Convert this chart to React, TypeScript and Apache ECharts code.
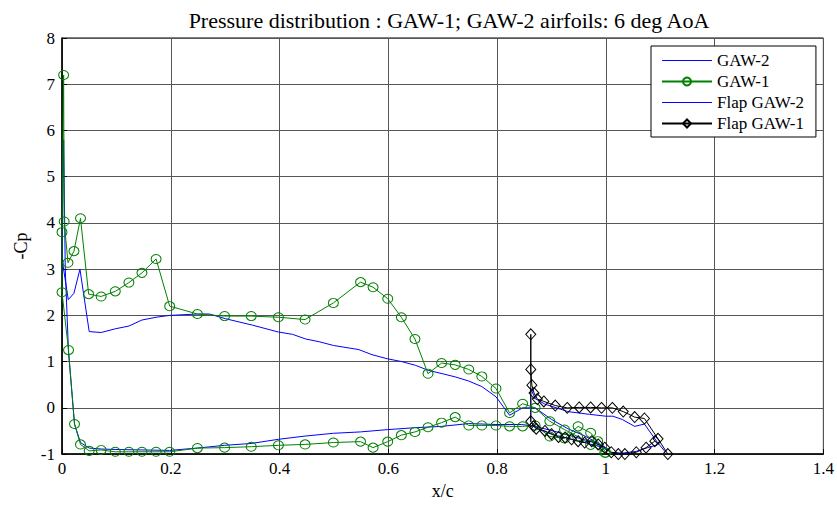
import React, { useEffect, useRef } from "react";
import * as echarts from "echarts";

const titleText = "Pressure distribution : GAW-1; GAW-2 airfoils: 6 deg AoA";
const legendNames = ["GAW-2", "GAW-1", "Flap GAW-2", "Flap GAW-1"];
const xTicks = { min: 0, max: 1.4, interval: 0.2 };
const yTicks = { min: -1, max: 8, interval: 1 };

// main airfoil GAW-2: lower surface TE -> LE, then upper surface LE -> TE
const gaw2: [number, number][] = [
  [1.0, -0.86], [0.97, -0.72], [0.94, -0.62], [0.91, -0.52], [0.87, -0.4], [0.845, -0.36],
  [0.798, -0.36], [0.748, -0.34], [0.698, -0.4], [0.649, -0.43], [0.599, -0.47], [0.549, -0.52],
  [0.499, -0.55], [0.447, -0.61], [0.398, -0.68], [0.348, -0.77], [0.299, -0.81], [0.249, -0.87],
  [0.198, -0.92], [0.147, -0.91], [0.098, -0.9], [0.072, -0.89], [0.05, -0.87], [0.034, -0.75],
  [0.023, -0.35], [0.012, 1.2], [0.006, 3.0], [0.003, 5.8], [0.0, 3.23], [0.0115, 2.34],
  [0.022, 2.48], [0.033, 3.0], [0.05, 1.65], [0.072, 1.63], [0.098, 1.71], [0.123, 1.77],
  [0.147, 1.9], [0.173, 1.96], [0.198, 2.0], [0.249, 2.03], [0.271, 2.03], [0.3, 1.93],
  [0.35, 1.79], [0.398, 1.64], [0.424, 1.59], [0.448, 1.49], [0.473, 1.43], [0.499, 1.35],
  [0.546, 1.26], [0.57, 1.15], [0.599, 1.06], [0.625, 1.0], [0.65, 0.92], [0.674, 0.81],
  [0.699, 0.74], [0.723, 0.67], [0.748, 0.58], [0.772, 0.46], [0.798, 0.24], [0.823, -0.16],
  [0.847, 0.0], [0.87, 0.0], [0.9, -0.25], [0.93, -0.45], [0.96, -0.6], [0.998, -0.84],
];

// main airfoil GAW-1
const gaw1: [number, number][] = [
  [1.0, -0.97], [0.985, -0.72], [0.972, -0.54], [0.949, -0.4], [0.924, -0.66], [0.897, -0.62],
  [0.87, -0.38], [0.847, -0.4], [0.823, -0.4], [0.798, -0.38], [0.772, -0.38], [0.748, -0.38],
  [0.723, -0.2], [0.698, -0.32], [0.673, -0.42], [0.649, -0.52], [0.624, -0.59], [0.599, -0.73],
  [0.572, -0.86], [0.549, -0.73], [0.499, -0.75], [0.447, -0.79], [0.398, -0.81], [0.348, -0.84],
  [0.299, -0.86], [0.249, -0.87], [0.198, -0.95], [0.173, -0.95], [0.147, -0.95], [0.123, -0.95],
  [0.098, -0.95], [0.072, -0.91], [0.05, -0.93], [0.034, -0.79], [0.023, -0.35], [0.012, 1.25],
  [0.0, 2.5], [0.0, 3.8], [0.003, 7.2], [0.004, 4.03], [0.011, 3.14], [0.022, 3.39],
  [0.034, 4.1], [0.049, 2.46], [0.072, 2.41], [0.098, 2.52], [0.123, 2.71], [0.147, 2.92],
  [0.173, 3.22], [0.198, 2.2], [0.249, 2.03], [0.299, 1.985], [0.348, 1.985], [0.398, 1.96],
  [0.447, 1.91], [0.499, 2.27], [0.549, 2.72], [0.572, 2.61], [0.599, 2.36], [0.624, 1.96],
  [0.649, 1.49], [0.673, 0.74], [0.698, 0.97], [0.723, 0.93], [0.748, 0.83], [0.772, 0.68],
  [0.798, 0.42], [0.823, -0.11], [0.847, 0.09], [0.87, 0.0], [0.897, -0.29], [0.924, -0.47],
  [0.948, -0.62], [0.972, -0.8], [0.998, -0.97],
];

// flap GAW-2
const flapGaw2: [number, number][] = [
  [1.095, -0.8], [1.077, -0.86], [1.056, -0.94], [1.03, -0.98], [1.01, -0.96], [0.99, -0.84],
  [0.97, -0.78], [0.95, -0.72], [0.93, -0.66], [0.91, -0.6], [0.89, -0.52], [0.87, -0.42],
  [0.862, -0.3], [0.862, 0.42], [0.87, 0.2], [0.888, 0.08], [0.93, -0.08], [0.97, -0.14],
  [1.0, -0.18], [1.013, -0.18], [1.03, -0.25], [1.053, -0.4], [1.071, -0.35], [1.095, -0.75],
  [1.11, -0.96],
];

// flap GAW-1
const flapGaw1: [number, number][] = [
  [1.09, -0.72], [1.074, -0.86], [1.056, -0.96], [1.035, -1.0], [1.023, -1.0], [1.01, -0.96],
  [0.998, -0.86], [0.986, -0.79], [0.974, -0.72], [0.961, -0.75], [0.949, -0.72], [0.937, -0.68],
  [0.925, -0.64], [0.913, -0.63], [0.9, -0.57], [0.888, -0.5], [0.872, -0.45], [0.867, -0.4],
  [0.862, -0.29], [0.862, 1.59], [0.862, 0.83], [0.864, 0.49], [0.868, 0.32], [0.874, 0.19],
  [0.886, 0.14], [0.907, 0.05], [0.929, 0.0], [0.951, 0.01], [0.972, 0.01], [0.992, 0.0],
  [1.012, 0.0], [1.032, -0.08], [1.053, -0.2], [1.071, -0.23], [1.096, -0.67], [1.114, -1.0],
];

const FONT = "Liberation Serif";
const LINE_ICON = "path://M0,0L0,0M0,4.4H50V5.6H0ZM0,10L0,10";
const BLUE = "#0000ff";

export default function App() {
  const ref = useRef<HTMLDivElement>(null);
  useEffect(() => {
    if (!ref.current) return;
    const chart = echarts.init(ref.current, undefined, { renderer: "svg" });
    const axisCommon = {
      type: "value" as const,
      axisLine: { show: true, onZero: false, lineStyle: { color: "#000", width: 1.5 } },
      axisTick: { show: true, inside: true, length: 5, lineStyle: { color: "#000" } },
      axisLabel: { color: "#000", fontFamily: FONT, fontSize: 17 },
      splitLine: { show: true, lineStyle: { color: "#555", width: 1 } },
      nameTextStyle: { color: "#000", fontFamily: FONT, fontSize: 18 },
    };
    chart.setOption({
      animation: false,
      backgroundColor: "#fff",
      textStyle: { fontFamily: FONT },
      title: {
        text: titleText,
        left: 444,
        textAlign: "center",
        top: 4,
        textStyle: { color: "#000", fontFamily: FONT, fontSize: 22, fontWeight: "normal" },
      },
      grid: {
        left: 62,
        right: 11,
        top: 38,
        bottom: 45,
        show: true,
        borderColor: "#000",
        borderWidth: 1,
        backgroundColor: "transparent",
      },
      legend: {
        data: [
          { name: legendNames[0], icon: LINE_ICON, itemStyle: { color: BLUE, borderWidth: 0 } },
          { name: legendNames[1] },
          { name: legendNames[2], icon: LINE_ICON, itemStyle: { color: BLUE, borderWidth: 0 } },
          { name: legendNames[3] },
        ],
        orient: "vertical",
        left: 651,
        top: 46,
        itemWidth: 50,
        itemHeight: 10,
        itemGap: 4,
        itemTextGap: 6,
        padding: [6, 12, 5, 10],
        borderColor: "#000",
        borderWidth: 1,
        backgroundColor: "#fff",
        textStyle: { color: "#000", fontFamily: FONT, fontSize: 17, lineHeight: 16 },
      },
      xAxis: {
        ...axisCommon,
        min: xTicks.min,
        max: xTicks.max,
        interval: xTicks.interval,
        name: "x/c",
        nameLocation: "middle",
        nameGap: 24,
        axisLabel: { ...axisCommon.axisLabel, margin: 6 },
      },
      yAxis: {
        ...axisCommon,
        min: yTicks.min,
        max: yTicks.max,
        interval: yTicks.interval,
        name: "-Cp",
        nameLocation: "middle",
        nameGap: 30,
        axisLabel: { ...axisCommon.axisLabel, margin: 7 },
      },
      series: [
        {
          name: "GAW-2",
          type: "line",
          data: gaw2,
          symbol: "none",
          lineStyle: { color: BLUE, width: 1 },
          itemStyle: { color: BLUE },
        },
        {
          name: "GAW-1",
          type: "line",
          data: gaw1,
          symbol: "circle",
          symbolSize: [10, 9],
          showAllSymbol: true,
          lineStyle: { color: "#008000", width: 1 },
          itemStyle: { color: "transparent", borderColor: "#008000", borderWidth: 1 },
        },
        {
          name: "Flap GAW-2",
          type: "line",
          data: flapGaw2,
          symbol: "none",
          lineStyle: { color: BLUE, width: 1 },
          itemStyle: { color: BLUE },
        },
        {
          name: "Flap GAW-1",
          type: "line",
          data: flapGaw1,
          symbol: "diamond",
          symbolSize: [10, 11],
          showAllSymbol: true,
          lineStyle: { color: "#000", width: 1 },
          itemStyle: { color: "transparent", borderColor: "#000", borderWidth: 1 },
        },
      ],
    });
    return () => chart.dispose();
  }, []);
  return (
    <div
      ref={ref}
      style={{ position: "fixed", left: 0, top: 0, width: 837, height: 505 }}
    />
  );
}
